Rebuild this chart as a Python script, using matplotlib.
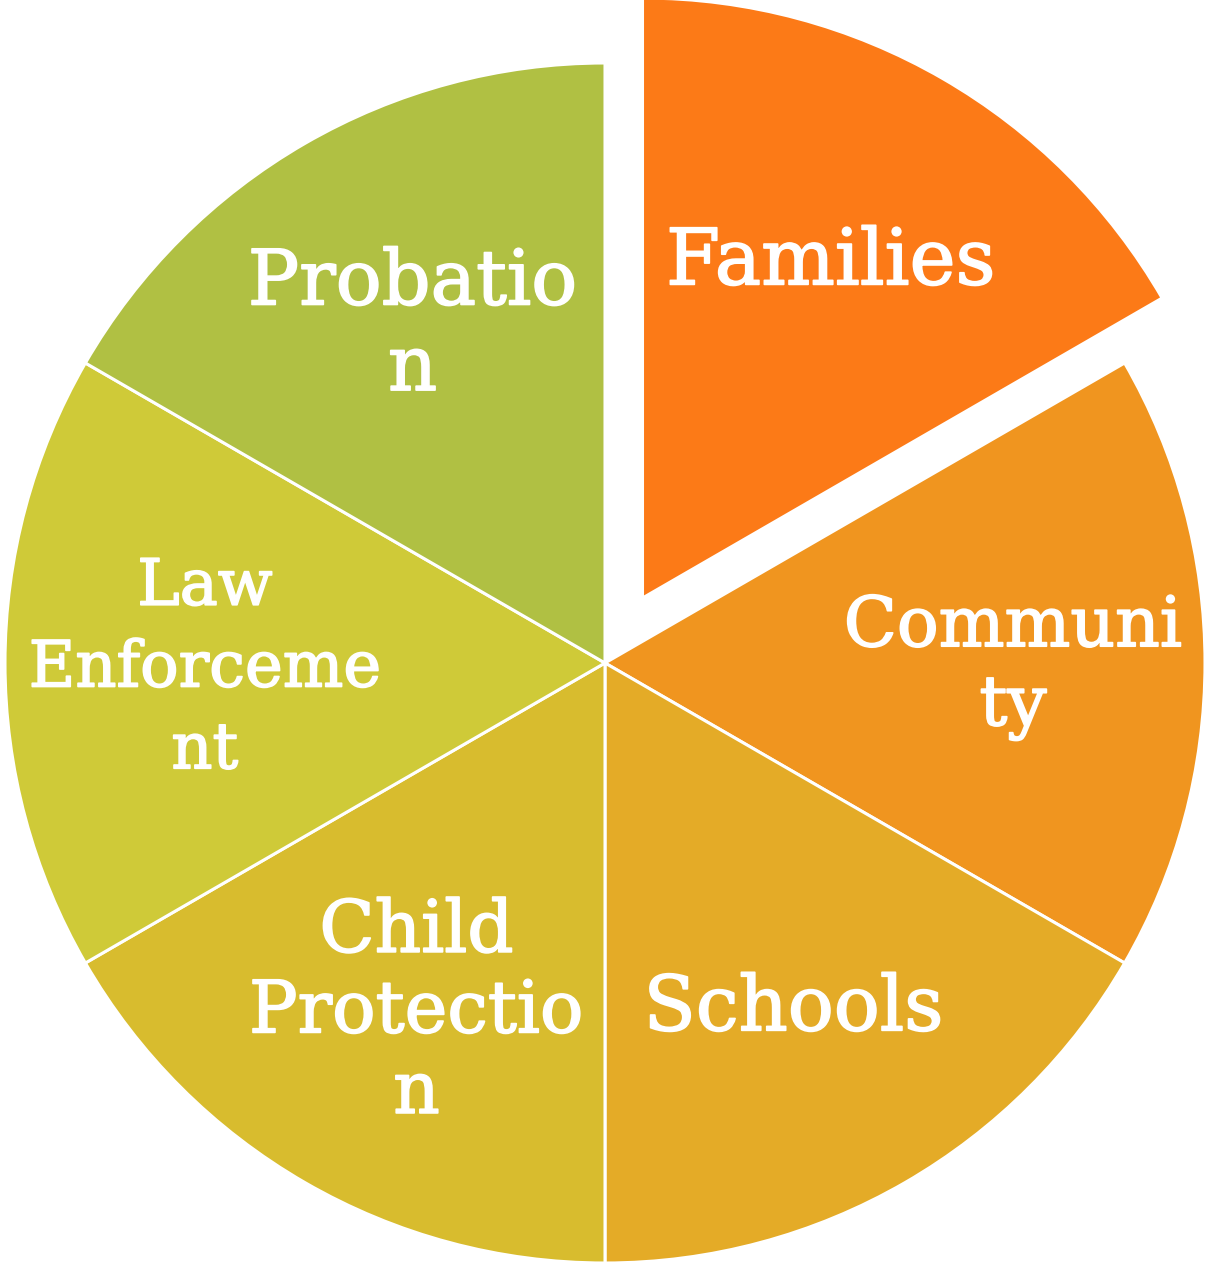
import matplotlib
matplotlib.use("Agg")
import matplotlib.pyplot as plt
import matplotlib.patheffects as pe
import numpy as np

categories = ["Families", "Community", "Schools", "Child Protection", "Law Enforcement", "Probation"]
display_labels = ["Families", "Communi\nty", "Schools", "Child\nProtectio\nn", "Law\nEnforceme\nnt", "Probatio\nn"]
values = [1, 1, 1, 1, 1, 1]
explode = [0.125, 0, 0, 0, 0, 0]
colors = ["#FC7A17", "#F0951F", "#E4AB27", "#D8BC2E", "#CFCA38", "#B0C043"]

# label layout (style only)
font_sizes = [56, 50, 55, 52, 46, 55]
line_sp = [1.0, 1.24, 1.0, 1.18, 1.43, 1.2]
label_dist = [0.64, 0.68, 0.655, 0.645, 0.667, 0.648]
nudge_px = [(-4, 3), (0, -4), (-8, -6), (5, -14), (0, -6), (2, 0)]

W, H = 1207, 1264
R_PX = 600
fig = plt.figure(figsize=(W / 100, H / 100), dpi=100)
ax = fig.add_axes([0, 0, 1, 1])
ax.set_axis_off()

wedges, _ = ax.pie(values, explode=explode, colors=colors, startangle=90,
                   counterclock=False, radius=1.0,
                   wedgeprops=dict(edgecolor="white", linewidth=2.2))

for w, lab, fs, d, ls, (nx, ny) in zip(wedges, display_labels, font_sizes, label_dist, line_sp, nudge_px):
    ang = np.deg2rad((w.theta1 + w.theta2) / 2)
    cx, cy = w.center
    ax.text(cx + d * np.cos(ang) + nx / R_PX, cy + d * np.sin(ang) + ny / R_PX, lab,
            ha="center", va="center",
            multialignment="center", color="white", fontsize=fs,
            family="DejaVu Serif", linespacing=ls,
            path_effects=[pe.withStroke(linewidth=1.2, foreground="white")])

cx_px, cy_px = 605, 663
ax.set_xlim(-cx_px / R_PX, (W - cx_px) / R_PX)
ax.set_ylim(-(H - cy_px) / R_PX, cy_px / R_PX)
ax.set_aspect("auto")

fig.savefig("out.png", dpi=100)
